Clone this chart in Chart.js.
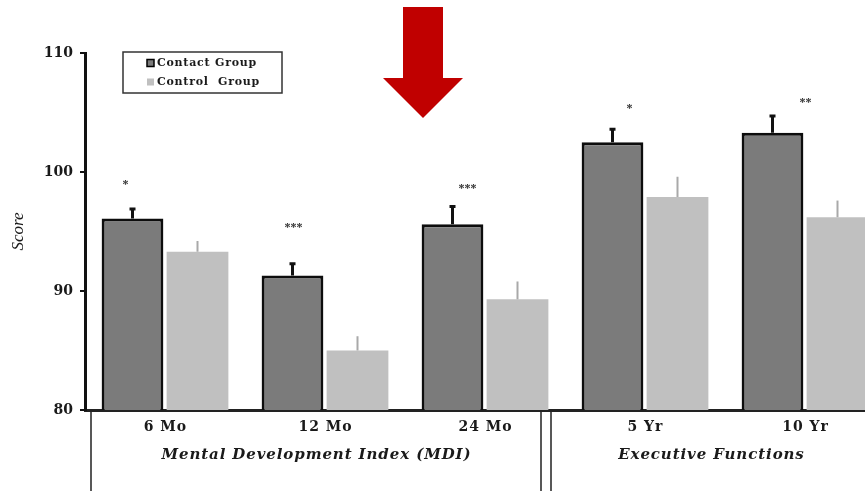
<!DOCTYPE html>
<html>
<head>
<meta charset="utf-8">
<script src="https://cdn.jsdelivr.net/npm/chart.js@4.4.1/dist/chart.umd.min.js"></script>
<style>
  html, body { margin: 0; padding: 0; background: #ffffff; overflow: hidden; }
  #wrap { width: 865px; height: 491px; overflow: hidden; position: relative; }
  #c { position: absolute; left: 0; top: 0; }
</style>
</head>
<body>
<div id="wrap"><canvas id="c" width="885" height="491"></canvas></div>
<script>
// Score by age, contact vs control group
const categories = ['6 Mo', '12 Mo', '24 Mo', '5 Yr', '10 Yr'];
const contactScores = [96.1, 91.3, 95.6, 102.5, 103.3];
const controlScores = [93.3, 85.0, 89.3, 97.9, 96.2];
const contactSE = [0.8, 1.0, 1.5, 1.1, 1.4];
const controlSE = [0.9, 1.2, 1.5, 1.7, 1.4];
const significance = ['*', '***', '***', '*', '**'];
const yTicks = [80, 90, 100, 110];
const domains = [
  { label: 'Mental Development Index (MDI)', from: 0, to: 2 },
  { label: 'Executive Functions', from: 3, to: 4 }
];

const SERIF = '"Liberation Serif", "DejaVu Serif", serif';
const WIDE_SERIF = '"DejaVu Serif", "Liberation Serif", serif';

// spacing needed for a text to span a given width
function spacingFor(ctx, text, width) {
  ctx.letterSpacing = '0px';
  const w = ctx.measureText(text).width;
  return Math.max(0, (width - w) / text.length);
}

// draws text centred on x, compensating for the trailing letter spacing
function spacedText(ctx, text, x, y, spacing) {
  ctx.letterSpacing = spacing + 'px';
  ctx.textAlign = 'center';
  ctx.fillText(text, x + spacing / 2, y);
  ctx.letterSpacing = '0px';
}

// Upward error bars for each dataset
const errorBars = {
  id: 'errorBars',
  afterDatasetsDraw(chart) {
    const ctx = chart.ctx;
    const y = chart.scales.y;
    const sets = [
      { idx: 0, se: contactSE, color: '#111111', width: 3, cap: 3 },
      { idx: 1, se: controlSE, color: '#a9a9a9', width: 2, cap: 0 }
    ];
    ctx.save();
    sets.forEach(s => {
      const meta = chart.getDatasetMeta(s.idx);
      const vals = chart.data.datasets[s.idx].data;
      meta.data.forEach((bar, i) => {
        const top = y.getPixelForValue(vals[i] + s.se[i]);
        const base = y.getPixelForValue(vals[i]);
        ctx.strokeStyle = s.color;
        ctx.lineWidth = s.width;
        ctx.beginPath();
        ctx.moveTo(bar.x, base);
        ctx.lineTo(bar.x, top);
        if (s.cap) {
          ctx.moveTo(bar.x - s.cap, top);
          ctx.lineTo(bar.x + s.cap, top);
        }
        ctx.stroke();
      });
    });
    ctx.restore();
  }
};

// Significance stars above the contact bars
const stars = {
  id: 'stars',
  afterDatasetsDraw(chart, args, opts) {
    const ctx = chart.ctx;
    const y = chart.scales.y;
    const meta = chart.getDatasetMeta(0);
    ctx.save();
    ctx.fillStyle = '#333333';
    ctx.font = 'bold 12px ' + SERIF;
    ctx.textAlign = 'center';
    ctx.textBaseline = 'middle';
    meta.data.forEach((bar, i) => {
      const top = y.getPixelForValue(contactScores[i] + contactSE[i]);
      const off = opts.offsets[i];
      ctx.fillText(significance[i], bar.x + off[0], top - off[1]);
    });
    ctx.restore();
  }
};

// Category labels, frame under the axis with domain labels, legend box and marker arrow
const decorations = {
  id: 'decorations',
  afterDraw(chart) {
    const ctx = chart.ctx;
    const area = chart.chartArea;
    const x = chart.scales.x;
    const half = (x.getPixelForValue(1) - x.getPixelForValue(0)) / 2;
    const bottom = chart.height;
    ctx.save();

    // category labels
    ctx.fillStyle = '#1a1a1a';
    ctx.font = 'bold 14px ' + WIDE_SERIF;
    ctx.textBaseline = 'middle';
    const catSpacing = spacingFor(ctx, '12 Mo', 54);
    categories.forEach((c, i) => {
      spacedText(ctx, c, x.getPixelForValue(i), area.bottom + 17, catSpacing);
    });

    // domain frames
    ctx.strokeStyle = '#222222';
    ctx.lineWidth = 1.5;
    const frames = [
      [area.left + 6, x.getPixelForValue(2) + half - 24],
      [x.getPixelForValue(3) - half - 14, x.getPixelForValue(4) + half - 14]
    ];
    frames.forEach(f => {
      ctx.beginPath();
      ctx.moveTo(f[0], area.bottom + 2);
      ctx.lineTo(f[0], bottom);
      ctx.moveTo(f[1], area.bottom + 2);
      ctx.lineTo(f[1], bottom);
      ctx.stroke();
    });

    ctx.fillStyle = '#1a1a1a';
    ctx.font = 'italic bold 15px ' + WIDE_SERIF;
    ctx.textBaseline = 'middle';
    const domSpacing = spacingFor(ctx, domains[0].label, 310);
    domains.forEach((d, k) => {
      const cx = (frames[k][0] + frames[k][1]) / 2;
      spacedText(ctx, d.label, cx, area.bottom + 45, domSpacing);
    });

    // legend
    const lx = 123, ly = 52, lw = 159, lh = 41;
    ctx.strokeStyle = '#333333';
    ctx.lineWidth = 1.5;
    ctx.strokeRect(lx, ly, lw, lh);
    ctx.font = 'bold 11px ' + WIDE_SERIF;
    ctx.textAlign = 'left';
    ctx.textBaseline = 'middle';
    const legSpacing = spacingFor(ctx, 'Contact Group', 100);
    const items = [
      { text: 'Contact Group', fill: chart.data.datasets[0].backgroundColor, stroke: '#000000' },
      { text: 'Control  Group', fill: chart.data.datasets[1].backgroundColor, stroke: null }
    ];
    items.forEach((it, k) => {
      const ty = ly + 11 + k * 19;
      ctx.fillStyle = it.fill;
      ctx.fillRect(lx + 24, ty - 3.5, 7, 7);
      if (it.stroke) {
        ctx.strokeStyle = it.stroke;
        ctx.lineWidth = 1.5;
        ctx.strokeRect(lx + 24, ty - 3.5, 7, 7);
      }
      ctx.fillStyle = '#1a1a1a';
      ctx.letterSpacing = legSpacing + 'px';
      ctx.fillText(it.text, lx + 34, ty);
      ctx.letterSpacing = '0px';
    });

    // red arrow
    ctx.fillStyle = '#c00000';
    ctx.beginPath();
    ctx.moveTo(403, 7);
    ctx.lineTo(443, 7);
    ctx.lineTo(443, 78);
    ctx.lineTo(463, 78);
    ctx.lineTo(423, 118);
    ctx.lineTo(383, 78);
    ctx.lineTo(403, 78);
    ctx.closePath();
    ctx.fill();

    ctx.restore();
  }
};

new Chart(document.getElementById('c'), {
  type: 'bar',
  data: {
    labels: categories,
    datasets: [
      {
        label: 'Contact Group',
        data: contactScores,
        backgroundColor: '#7b7b7b',
        borderColor: '#0d0d0d',
        borderWidth: 3,
        borderSkipped: 'bottom',
        categoryPercentage: 0.8125,
        barPercentage: 0.95
      },
      {
        label: 'Control Group',
        data: controlScores,
        backgroundColor: '#c0c0c0',
        borderWidth: 0,
        categoryPercentage: 0.8125,
        barPercentage: 0.95
      }
    ]
  },
  options: {
    responsive: false,
    animation: false,
    events: [],
    layout: { padding: { top: 53, left: 0, right: 0, bottom: 0 } },
    plugins: {
      legend: { display: false },
      tooltip: { enabled: false },
      stars: { offsets: [[-7, 24], [1, 36], [15, 18], [17, 20], [33, 13]] }
    },
    scales: {
      x: {
        grid: { display: false, drawTicks: false },
        border: { display: true, color: '#222222', width: 3 },
        ticks: { display: false },
        afterFit(s) { s.height = 81; }
      },
      y: {
        min: 80,
        max: 110,
        afterBuildTicks(s) { s.ticks = yTicks.map(v => ({ value: v })); },
        grid: { drawOnChartArea: false, drawTicks: true, tickLength: 5, color: '#111111', lineWidth: 2 },
        border: { display: true, color: '#111111', width: 3 },
        ticks: {
          color: '#1a1a1a',
          font: { family: WIDE_SERIF, size: 14, weight: 'bold' },
          padding: 7
        },
        title: {
          display: true,
          text: 'Score',
          color: '#1a1a1a',
          font: { family: SERIF, size: 17, style: 'italic' },
          padding: { top: 8, bottom: 0 }
        },
        afterFit(s) { s.width = 85; }
      }
    }
  },
  plugins: [errorBars, stars, decorations]
});
</script>
</body>
</html>
